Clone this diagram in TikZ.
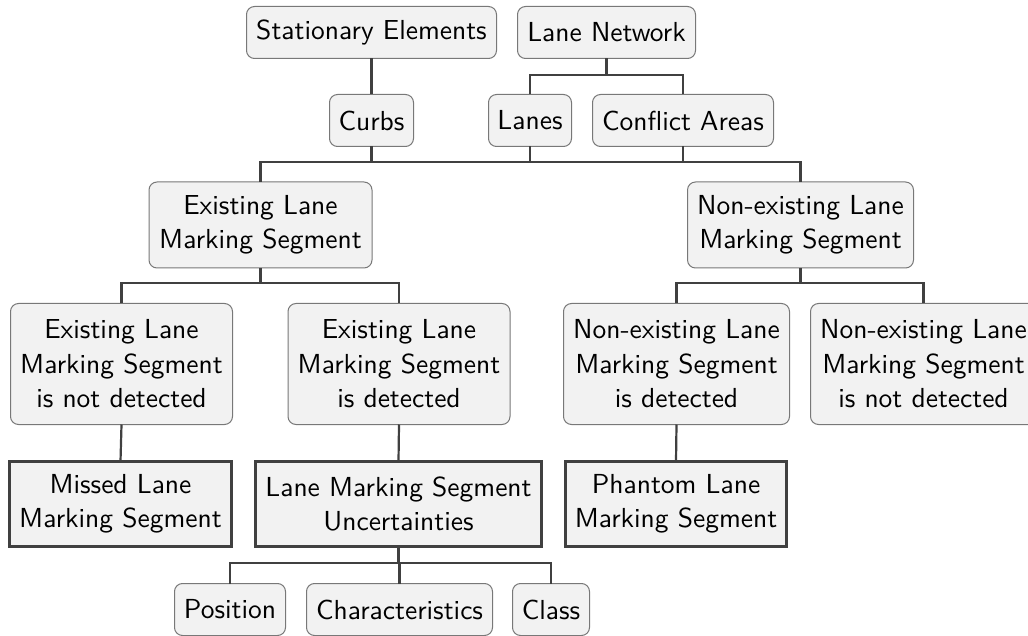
\documentclass[tikz,border=0pt]{standalone}
\usepackage{fontspec}
\setsansfont{lmsans10-regular.otf}
\definecolor{boxfill}{RGB}{242,242,242}
\definecolor{boxline}{RGB}{120,120,120}
\definecolor{thickline}{RGB}{64,64,64}
\definecolor{conn}{RGB}{64,64,64}
\begin{document}
\begin{tikzpicture}[x=1pt,y=-1pt,
  every node/.style={font=\fontsize{27.5}{34.4}\selectfont\sffamily, align=center, inner sep=0pt, outer sep=0pt},
  softbox/.style={draw=boxline, fill=boxfill, line width=1pt, rounded corners=8pt},
  hardbox/.style={draw=thickline, fill=boxfill, line width=3pt},
  conline/.style={draw=conn, line width=2.2pt}]
\useasboundingbox (0,0) rectangle (1028,636);
% level 0
\node[softbox, minimum width=250pt, minimum height=52pt] (SE) at (371.5,32.5) {Stationary Elements};
\node[softbox, minimum width=178pt, minimum height=52pt] (LN) at (606.5,32.5) {Lane Network};
% level 1
\node[softbox, minimum width=84pt, minimum height=52pt] (CU) at (371.5,120.5) {Curbs};
\node[softbox, minimum width=83pt, minimum height=52pt] (LA) at (530,120.5) {Lanes};
\node[softbox, minimum width=181pt, minimum height=52pt] (CA) at (683,120.5) {Conflict Areas};
% level 2
\node[softbox, minimum width=223pt, minimum height=86pt] (EL) at (260.5,225) {Existing Lane\\Marking Segment};
\node[softbox, minimum width=226pt, minimum height=86pt] (NL) at (800.5,225) {Non-existing Lane\\Marking Segment};
% level 3
\node[softbox, minimum width=222pt, minimum height=121pt] (ELN) at (121.5,364) {Existing Lane\\Marking Segment\\is not detected};
\node[softbox, minimum width=222pt, minimum height=121pt] (ELD) at (399,364) {Existing Lane\\Marking Segment\\is detected};
\node[softbox, minimum width=226pt, minimum height=121pt] (NLD) at (676.5,364) {Non-existing Lane\\Marking Segment\\is detected};
\node[softbox, minimum width=226pt, minimum height=121pt] (NLN) at (923.5,364) {Non-existing Lane\\Marking Segment\\is not detected};
% level 4
\node[hardbox, minimum width=222pt, minimum height=85pt] (MI) at (120.5,504) {Missed Lane\\Marking Segment};
\node[hardbox, minimum width=286pt, minimum height=85pt] (UN) at (398.5,504) {Lane Marking Segment\\Uncertainties};
\node[hardbox, minimum width=221pt, minimum height=85pt] (PH) at (676,504) {Phantom Lane\\Marking Segment};
% level 5
\node[softbox, minimum width=111pt, minimum height=52pt] (PO) at (230,609.5) {Position};
\node[softbox, minimum width=186pt, minimum height=52pt] (CH) at (399.5,609.5) {Characteristics};
\node[softbox, minimum width=77pt, minimum height=52pt] (CL) at (551,609.5) {Class};
% bus coordinates
\coordinate (b1) at (0,75);
\coordinate (b2) at (0,162);
\coordinate (b3) at (0,283);
\coordinate (b5) at (0,563);
% connectors
\draw[conline] (SE.south) -- (CU.north);
\draw[conline] (LN.south) -- (LN.south |- b1);
\draw[conline] (LA.north) |- (CA.north |- b1) -- (CA.north);
\draw[conline] (CU.south) -- (CU.south |- b2);
\draw[conline] (LA.south) -- (LA.south |- b2);
\draw[conline] (CA.south) -- (CA.south |- b2);
\draw[conline] (EL.north) |- (NL.north |- b2) -- (NL.north);
\draw[conline] (EL.south) -- (EL.south |- b3);
\draw[conline] (ELN.north) |- (ELD.north |- b3) -- (ELD.north);
\draw[conline] (NL.south) -- (NL.south |- b3);
\draw[conline] (NLD.north) |- (NLN.north |- b3) -- (NLN.north);
\draw[conline] (ELN.south) -- (MI.north);
\draw[conline] (ELD.south) -- (UN.north);
\draw[conline] (NLD.south) -- (PH.north);
\draw[conline] (UN.south) -- (UN.south |- b5);
\draw[conline] (PO.north) |- (CL.north |- b5) -- (CL.north);
\draw[conline] (CH.north) -- (CH.north |- b5);
\end{tikzpicture}
\end{document}
